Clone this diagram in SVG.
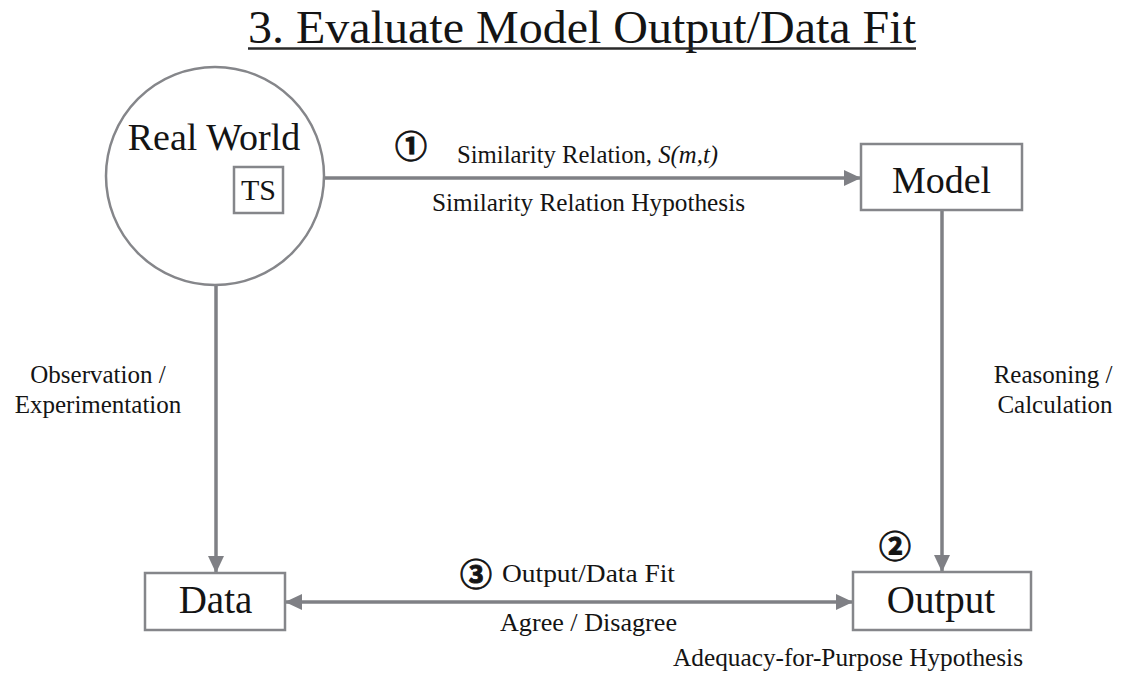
<svg xmlns="http://www.w3.org/2000/svg" width="1124" height="676" viewBox="0 0 1124 676">
  <defs>
    <marker id="arrow" markerUnits="userSpaceOnUse" markerWidth="18" markerHeight="16" refX="17" refY="8" orient="auto-start-reverse">
      <path d="M0,0 L17,8 L0,16 Z" fill="#7f8085"/>
    </marker>
    <style>
      text { font-family: 'Liberation Serif', 'DejaVu Serif', 'Times New Roman', serif; fill: #141414; }
      .mid { text-anchor: middle; }
      .shape { fill: #ffffff; stroke: #85868a; stroke-width: 2.5; }
      .conn { fill: none; stroke: #7f8085; stroke-width: 3.5; }
      text.num { font-family: 'Noto Sans CJK JP', 'DejaVu Sans', sans-serif; font-weight: bold; text-anchor: middle; stroke: #141414; stroke-width: 0.9; }
    </style>
  </defs>

  <rect width="1124" height="676" fill="#ffffff"/>

  <!-- heading -->
  <g id="title">
    <text x="248" y="43" font-size="47" textLength="668" lengthAdjust="spacingAndGlyphs">3. Evaluate Model Output/Data Fit</text>
    <line x1="248" y1="48.5" x2="916" y2="48.5" stroke="#2a2a2a" stroke-width="2.5"/>
  </g>

  <!-- connectors -->
  <g id="connectors">
    <line class="conn" x1="283" y1="178" x2="861" y2="178" marker-start="url(#arrow)" marker-end="url(#arrow)"/>
    <line class="conn" x1="216" y1="285" x2="216" y2="573" marker-end="url(#arrow)"/>
    <line class="conn" x1="942" y1="211" x2="942" y2="572" marker-end="url(#arrow)"/>
    <line class="conn" x1="285" y1="602" x2="853" y2="602" marker-start="url(#arrow)" marker-end="url(#arrow)"/>
  </g>

  <!-- nodes -->
  <g id="real-world">
    <circle class="shape" cx="215" cy="176" r="109" stroke-width="2"/>
    <text class="mid" x="214" y="150" font-size="38">Real World</text>
  </g>
  <g id="ts">
    <rect class="shape" x="234" y="167" width="49" height="46"/>
    <text class="mid" x="258.5" y="200" font-size="30">TS</text>
  </g>
  <g id="model">
    <rect class="shape" x="861" y="144" width="161" height="66"/>
    <text class="mid" x="941.5" y="193" font-size="38">Model</text>
  </g>
  <g id="data">
    <rect class="shape" x="145" y="573" width="140" height="57"/>
    <text class="mid" x="215.5" y="613" font-size="39">Data</text>
  </g>
  <g id="output">
    <rect class="shape" x="853" y="572" width="178" height="58"/>
    <text class="mid" x="941" y="613" font-size="39">Output</text>
  </g>

  <!-- edge labels -->
  <g id="labels" font-size="25">
    <text class="num" x="411" y="158" font-size="32">①</text>
    <text x="457" y="163" textLength="261" lengthAdjust="spacingAndGlyphs">Similarity Relation, <tspan font-style="italic">S(m,t)</tspan></text>
    <text x="432" y="211" textLength="313" lengthAdjust="spacingAndGlyphs">Similarity Relation Hypothesis</text>

    <text class="mid" x="98" y="383">Observation /</text>
    <text class="mid" x="98" y="413">Experimentation</text>

    <text class="mid" x="1053" y="383">Reasoning /</text>
    <text class="mid" x="1055" y="413">Calculation</text>

    <text class="num" x="895" y="558" font-size="32">②</text>

    <text class="num" x="476" y="586" font-size="32">③</text>
    <text x="502" y="582" textLength="173" lengthAdjust="spacingAndGlyphs">Output/Data Fit</text>
    <text x="500" y="631" textLength="177" lengthAdjust="spacingAndGlyphs">Agree / Disagree</text>

    <text x="673" y="666" textLength="350" lengthAdjust="spacingAndGlyphs">Adequacy-for-Purpose Hypothesis</text>
  </g>
</svg>
